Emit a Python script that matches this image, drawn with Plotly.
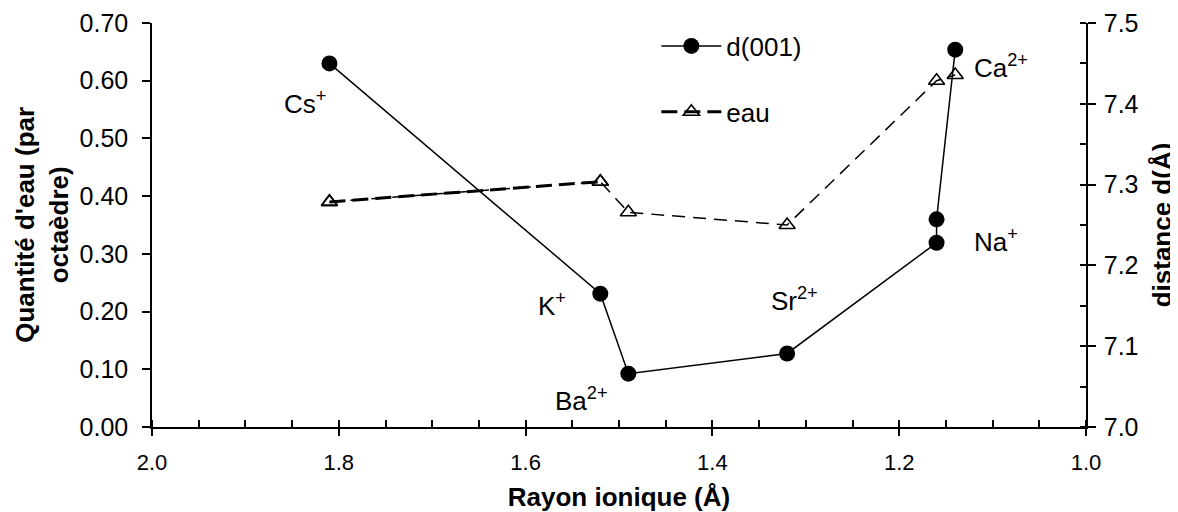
import plotly.graph_objects as go

# ---- data ----
ions = ["Cs<sup>+</sup>", "K<sup>+</sup>", "Ba<sup>2+</sup>", "Sr<sup>2+</sup>", "Na<sup>+</sup>", "Ca<sup>2+</sup>"]
ion_radius = [1.81, 1.52, 1.49, 1.32, 1.16, 1.14]

d_radius = [1.81, 1.52, 1.49, 1.32, 1.16, 1.16, 1.14]
d001 = [7.45, 7.165, 7.066, 7.091, 7.228, 7.257, 7.467]

eau_radius = [1.81, 1.52, 1.49, 1.32, 1.16, 1.14]
eau = [0.39, 0.425, 0.372, 0.350, 0.600, 0.610]

# label anchor positions (x in Å, y on left axis scale)
label_x = [1.836, 1.572, 1.540, 1.312, 1.096, 1.091]
label_y = [0.5615, 0.212, 0.048, 0.221, 0.323, 0.6245]

FONT = "Arial, 'Liberation Sans', sans-serif"
YTICK_SIZE = 25
XTICK_SIZE = 22
TXT_SIZE = 26

fig = go.Figure()

# eau - thin dashed (whole series)
fig.add_trace(go.Scatter(
    x=eau_radius, y=eau, mode="lines+markers", name="eau", showlegend=False,
    line=dict(color="black", width=1.5, dash="13px,8px"),
    marker=dict(symbol="triangle-up-open", size=14, color="black", line=dict(width=1.6)),
    yaxis="y", legend="legend2"))
# eau - thicker first segment (as in the reference) and legend entry
fig.add_trace(go.Scatter(
    x=eau_radius[:2], y=eau[:2], mode="lines+markers", name="eau",
    line=dict(color="black", width=3, dash="16px,7px"),
    marker=dict(symbol="triangle-up-open", size=14, color="black", line=dict(width=1.6)),
    yaxis="y", legend="legend2"))

# d(001) on right axis
fig.add_trace(go.Scatter(
    x=d_radius, y=d001, mode="lines+markers", name="d(001)",
    line=dict(color="black", width=1.5),
    marker=dict(symbol="circle", size=16, color="black"),
    yaxis="y2", legend="legend"))

for t, lx, ly in zip(ions, label_x, label_y):
    fig.add_annotation(x=lx, y=ly, xref="x", yref="y", text=t, showarrow=False,
                       font=dict(family=FONT, size=TXT_SIZE, color="black"),
                       xanchor="center", yanchor="middle")

# left axis title (two lines, rotated)
fig.add_annotation(x=-0.118, y=0.5, xref="paper", yref="paper",
                   text="<b>Quantité d'eau (par<br>octaèdre)</b>", textangle=-90, showarrow=False,
                   font=dict(family=FONT, size=TXT_SIZE, color="black"),
                   xanchor="center", yanchor="middle")

base = dict(showgrid=False, zeroline=False, color="black", automargin=False)
ovl = dict(showgrid=False, zeroline=False, showline=False, showticklabels=False,
           tickwidth=1.5, tickcolor="black", ticks="inside", automargin=False)

fig.update_layout(
    width=1170, height=504,
    margin=dict(l=144, r=92, t=15, b=85),
    paper_bgcolor="white", plot_bgcolor="white",
    font=dict(family=FONT, color="black"),
    xaxis=dict(**base, range=[2.0, 1.0], tick0=0, dtick=0.2, tickformat=".1f",
               tickfont=dict(family=FONT, size=XTICK_SIZE, color="black"),
               ticks="outside", ticklen=7, tickwidth=1.5, tickcolor="black", ticklabelstandoff=8,
               showline=True, linecolor="black", linewidth=1.5,
               minor=dict(dtick=0.05, tick0=0, ticks="inside", ticklen=7, tickwidth=1.5, tickcolor="black"),
               title=dict(text="<b>Rayon ionique (Å)</b>", font=dict(family=FONT, size=TXT_SIZE), standoff=17),
               anchor="y"),
    xaxis2=dict(**ovl, overlaying="x", range=[2.0, 1.0], tick0=0, dtick=0.2, ticklen=7,
                anchor="y", side="bottom"),
    yaxis=dict(**base, range=[0, 0.7], tick0=0, dtick=0.1, tickformat=".2f",
               tickfont=dict(family=FONT, size=YTICK_SIZE, color="black"),
               ticks="outside", ticklen=8, tickwidth=1.5, tickcolor="black", ticklabelstandoff=9,
               showline=True, linecolor="black", linewidth=1.5,
               anchor="x"),
    yaxis3=dict(**ovl, overlaying="y", side="left", range=[0, 0.7], tick0=0, dtick=0.1,
                ticklen=8, anchor="x"),
    yaxis2=dict(**base, overlaying="y", side="right", range=[7.0, 7.5], tick0=7, dtick=0.1,
                tickformat=".1f", tickfont=dict(family=FONT, size=YTICK_SIZE, color="black"),
                ticks="outside", ticklen=8, tickwidth=1.5, tickcolor="black", ticklabelstandoff=3,
                showline=True, linecolor="black", linewidth=1.5,
                minor=dict(dtick=0.05, tick0=7, ticks="inside", ticklen=6, tickwidth=1.5, tickcolor="black"),
                title=dict(text="<b>distance d(Å)</b>", font=dict(family=FONT, size=TXT_SIZE), standoff=15),
                anchor="x"),
    yaxis4=dict(**ovl, overlaying="y", side="right", range=[7.0, 7.5], tick0=7, dtick=0.1,
                ticklen=6, anchor="x"),
    legend=dict(x=0.54, y=0.943, xanchor="left", yanchor="middle", bgcolor="rgba(0,0,0,0)",
                font=dict(family=FONT, size=TXT_SIZE, color="black"), itemwidth=60),
    legend2=dict(x=0.54, y=0.78, xanchor="left", yanchor="middle", bgcolor="rgba(0,0,0,0)",
                 font=dict(family=FONT, size=TXT_SIZE, color="black"), itemwidth=60),
    showlegend=True,
)

fig.write_html("out.html")
